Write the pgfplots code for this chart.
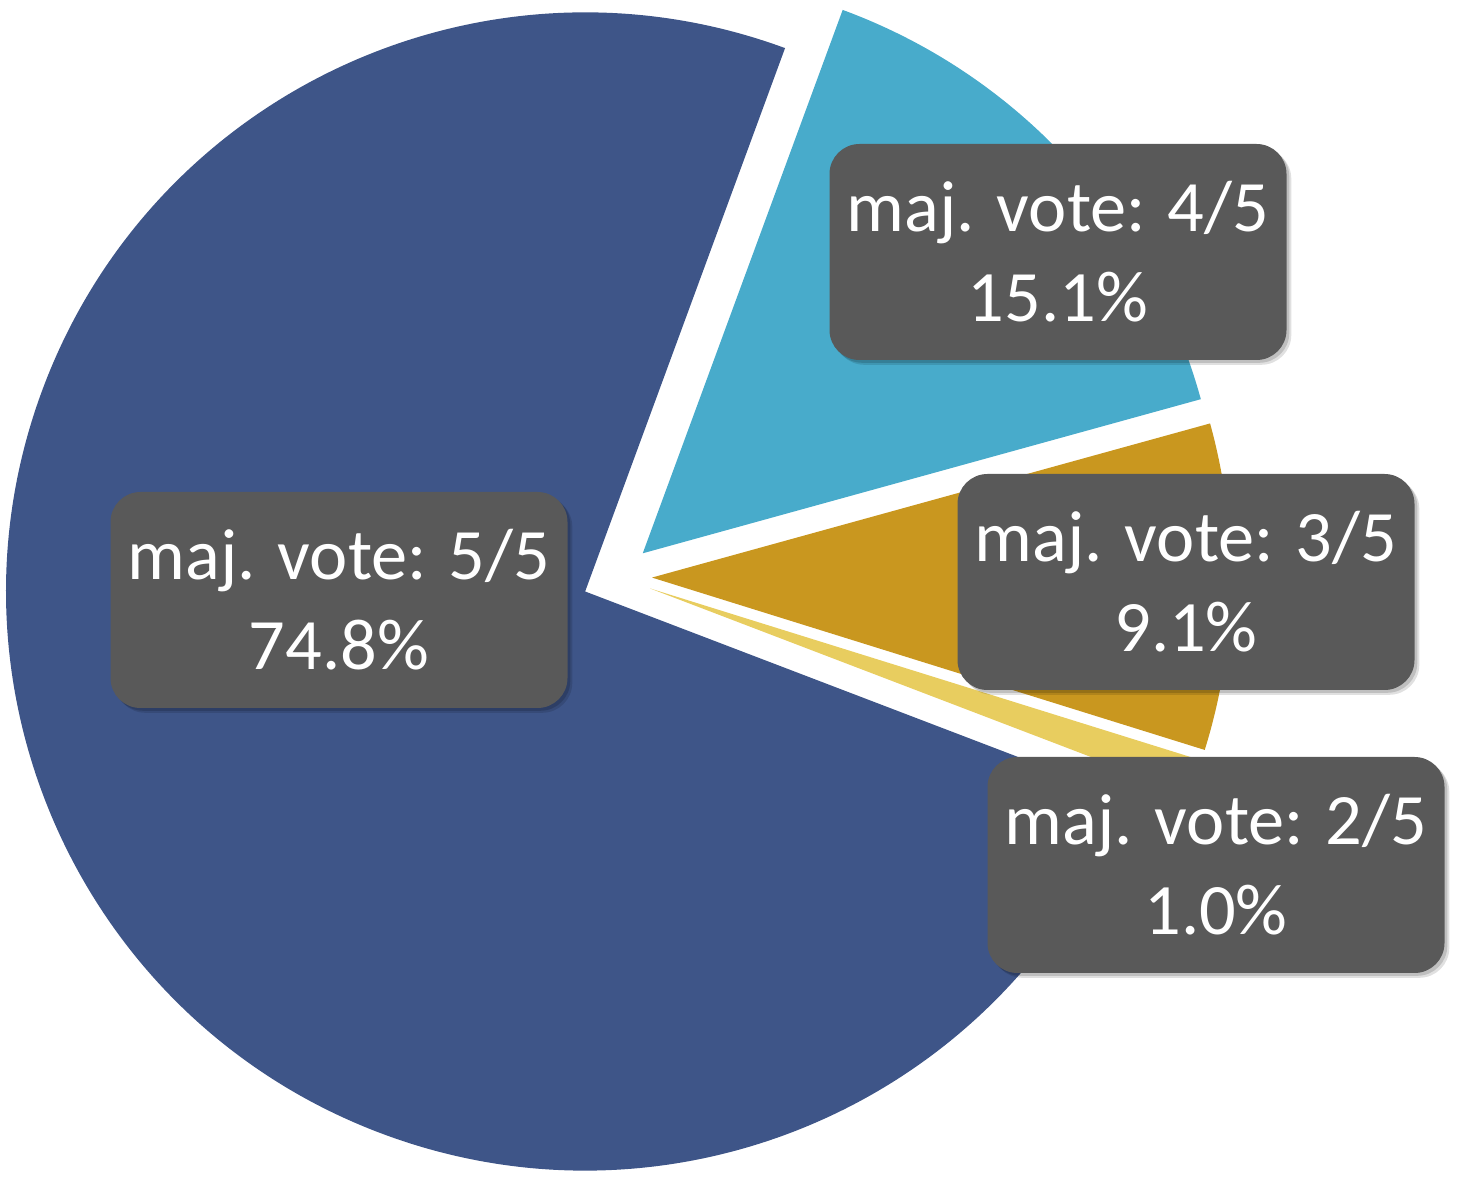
\documentclass[border=0pt]{standalone}
\usepackage{pgfplots}
\pgfplotsset{compat=1.18}
\usepackage{pgfplotstable}
\usepackage{fontspec}
\setmainfont{Carlito}
\usetikzlibrary{shadows}

\definecolor{vote5}{HTML}{3E5588}
\definecolor{vote4}{HTML}{48ABCB}
\definecolor{vote3}{HTML}{C9971F}
\definecolor{vote2}{HTML}{E8CD5F}
\definecolor{labelbg}{HTML}{595959}

% slices in clockwise order, first one starts at 69.8 deg
% lx, ly = label centre (axis units)
\pgfplotstableread{
name value lx   ly
4    15.1  1058 927
3    9.1   1186 597
2    1.0   1216 314
5    74.8  339  579
}\piedata

% pie geometry (axis units, 1 unit = 0.25pt)
\def\cx{617}
\def\cy{602}
\def\explode{35}
\def\R{144.75pt}

\pgfplotstablegetrowsof{\piedata}
\pgfmathtruncatemacro{\lastrow}{\pgfplotsretval-1}
\def\acc{69.8}
\pgfplotsforeachungrouped \i in {0,...,\lastrow}{%
  \pgfplotstablegetelem{\i}{value}\of\piedata \let\v\pgfplotsretval
  \pgfmathsetmacro{\b}{\acc-3.6*\v}
  \pgfmathsetmacro{\m}{(\acc+\b)/2}
  \pgfmathsetmacro{\px}{\cx+\explode*cos(\m)}
  \pgfmathsetmacro{\py}{\cy+\explode*sin(\m)}
  \expandafter\let\csname sliceA\i\endcsname\acc
  \expandafter\let\csname sliceB\i\endcsname\b
  \expandafter\let\csname sliceX\i\endcsname\px
  \expandafter\let\csname sliceY\i\endcsname\py
  \expandafter\let\csname sliceV\i\endcsname\v
  \pgfplotstablegetelem{\i}{name}\of\piedata
  \expandafter\let\csname sliceN\i\endcsname\pgfplotsretval
  \expandafter\edef\csname sliceC\i\endcsname{vote\pgfplotsretval}
  \pgfplotstablegetelem{\i}{lx}\of\piedata
  \expandafter\let\csname sliceLX\i\endcsname\pgfplotsretval
  \pgfplotstablegetelem{\i}{ly}\of\piedata
  \expandafter\let\csname sliceLY\i\endcsname\pgfplotsretval
  \let\acc\b
}

\begin{document}
\begin{tikzpicture}[
  label box/.style={
    fill=labelbg, text=white, rounded corners=7.5pt,
    minimum width=114.25pt, minimum height=54pt, inner sep=0pt,
    align=center, font=\fontsize{18.1}{22.5}\selectfont,
    general shadow={shadow xshift=1.2pt, shadow yshift=-1.2pt, fill=black, opacity=0.12},
    general shadow={shadow xshift=0.7pt, shadow yshift=-0.7pt, fill=black, opacity=0.15},
  },
]
\begin{axis}[
    x=0.25pt, y=0.25pt,
    xmin=0, xmax=1457,
    ymin=0, ymax=1179,
    hide axis,
]
\path (axis cs:0,0) rectangle (axis cs:1457,1179);

\pgfplotsinvokeforeach{0,...,\lastrow}{
  \fill[fill=\csname sliceC#1\endcsname]
    (axis cs:\csname sliceX#1\endcsname,\csname sliceY#1\endcsname)
    -- ++(\csname sliceA#1\endcsname:\R)
    arc[start angle=\csname sliceA#1\endcsname,
        end angle=\csname sliceB#1\endcsname, radius=\R]
    -- cycle;
}

\pgfplotsinvokeforeach{0,...,\lastrow}{
  \node[label box] at (axis cs:\csname sliceLX#1\endcsname,\csname sliceLY#1\endcsname)
    {maj. vote: \csname sliceN#1\endcsname/5\\\csname sliceV#1\endcsname\%};
}
\end{axis}
\end{tikzpicture}
\end{document}
